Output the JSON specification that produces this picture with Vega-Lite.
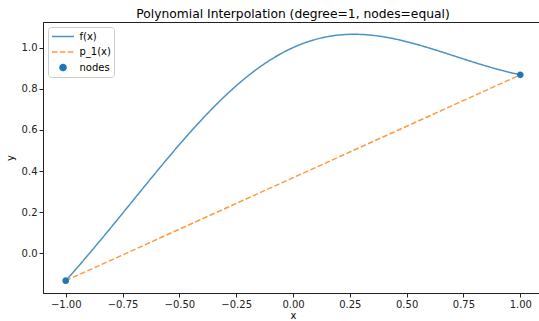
{
  "$schema": "https://vega.github.io/schema/vega-lite/v6.json",
  "width": 500,
  "height": 271,
  "autosize": {"type": "none"},
  "padding": {"left": 43, "top": 22, "right": 0, "bottom": 28},
  "background": "white",
  "title": {"text": "Polynomial Interpolation (degree=1, nodes=equal)", "fontSize": 12.3, "fontWeight": "normal", "font": "DejaVu Sans", "color": "black", "offset": 2},
  "datasets": {
    "f": [
      {"x": -1.0, "y": -0.132121, "series": "f(x)"},
      {"x": -0.95, "y": -0.069445, "series": "f(x)"},
      {"x": -0.9, "y": -0.005142, "series": "f(x)"},
      {"x": -0.85, "y": 0.060537, "series": "f(x)"},
      {"x": -0.8, "y": 0.127292, "series": "f(x)"},
      {"x": -0.75, "y": 0.194783, "series": "f(x)"},
      {"x": -0.7, "y": 0.262626, "series": "f(x)"},
      {"x": -0.65, "y": 0.330406, "series": "f(x)"},
      {"x": -0.6, "y": 0.397676, "series": "f(x)"},
      {"x": -0.55, "y": 0.463968, "series": "f(x)"},
      {"x": -0.5, "y": 0.528801, "series": "f(x)"},
      {"x": -0.45, "y": 0.591686, "series": "f(x)"},
      {"x": -0.4, "y": 0.652144, "series": "f(x)"},
      {"x": -0.35, "y": 0.709706, "series": "f(x)"},
      {"x": -0.3, "y": 0.763931, "series": "f(x)"},
      {"x": -0.25, "y": 0.814413, "series": "f(x)"},
      {"x": -0.2, "y": 0.860789, "series": "f(x)"},
      {"x": -0.15, "y": 0.902751, "series": "f(x)"},
      {"x": -0.1, "y": 0.940050, "series": "f(x)"},
      {"x": -0.05, "y": 0.972503, "series": "f(x)"},
      {"x": 0.0, "y": 1.0, "series": "f(x)"},
      {"x": 0.05, "y": 1.022503, "series": "f(x)"},
      {"x": 0.1, "y": 1.040050, "series": "f(x)"},
      {"x": 0.15, "y": 1.052751, "series": "f(x)"},
      {"x": 0.2, "y": 1.060789, "series": "f(x)"},
      {"x": 0.25, "y": 1.064413, "series": "f(x)"},
      {"x": 0.3, "y": 1.063931, "series": "f(x)"},
      {"x": 0.35, "y": 1.059706, "series": "f(x)"},
      {"x": 0.4, "y": 1.052144, "series": "f(x)"},
      {"x": 0.45, "y": 1.041686, "series": "f(x)"},
      {"x": 0.5, "y": 1.028801, "series": "f(x)"},
      {"x": 0.55, "y": 1.013968, "series": "f(x)"},
      {"x": 0.6, "y": 0.997676, "series": "f(x)"},
      {"x": 0.65, "y": 0.980406, "series": "f(x)"},
      {"x": 0.7, "y": 0.962626, "series": "f(x)"},
      {"x": 0.75, "y": 0.944783, "series": "f(x)"},
      {"x": 0.8, "y": 0.927292, "series": "f(x)"},
      {"x": 0.85, "y": 0.910537, "series": "f(x)"},
      {"x": 0.9, "y": 0.894858, "series": "f(x)"},
      {"x": 0.95, "y": 0.880555, "series": "f(x)"},
      {"x": 1.0, "y": 0.867879, "series": "f(x)"}
    ],
    "p": [
      {"x": -1.0, "y": -0.132121, "series": "p_1(x)"},
      {"x": 1.0, "y": 0.867879, "series": "p_1(x)"}
    ],
    "nodes": [
      {"x": -1.0, "y": -0.132121, "series": "nodes"},
      {"x": 1.0, "y": 0.867879, "series": "nodes"}
    ]
  },
  "layer": [
    {
      "data": {"name": "f"},
      "mark": {"type": "line", "strokeWidth": 1.5, "interpolate": "natural", "clip": true},
      "encoding": {
        "x": {"field": "x", "type": "quantitative", "scale": {"domain": [-1.1, 1.1], "nice": false, "zero": false}, "axis": {"title": "x", "values": [-1, -0.75, -0.5, -0.25, 0, 0.25, 0.5, 0.75, 1], "format": ".2f"}},
        "y": {"field": "y", "type": "quantitative", "scale": {"domain": [-0.192, 1.1244], "nice": false, "zero": false}, "axis": {"title": "y", "values": [0, 0.2, 0.4, 0.6, 0.8, 1.0], "format": ".1f"}},
        "color": {"field": "series", "type": "nominal", "scale": {"domain": ["f(x)", "p_1(x)", "nodes"], "range": ["#4c92c3", "#ff993e", "#1f77b4"]},
          "legend": {"orient": "top-left", "offset": 5, "title": null, "padding": 3, "fillColor": "white", "strokeColor": "#cccccc", "cornerRadius": 3, "labelFontSize": 10, "labelFont": "DejaVu Sans", "labelColor": "black", "rowPadding": 3.5, "symbolSize": 121, "symbolStrokeWidth": 1.5, "symbolOffset": 5.5, "labelOffset": 10,
            "encode": {"symbols": {"update": {"stroke": {"scale": "color", "field": "value"}, "fill": {"scale": "color", "field": "value"}}}}}},
        "strokeDash": {"field": "series", "type": "nominal", "scale": {"domain": ["f(x)", "p_1(x)", "nodes"], "range": [[1, 0], [5.5, 2.4], [1, 0]]}}
      }
    },
    {
      "data": {"name": "p"},
      "mark": {"type": "line", "strokeWidth": 1.5, "clip": true},
      "encoding": {
        "x": {"field": "x", "type": "quantitative"},
        "y": {"field": "y", "type": "quantitative"},
        "color": {"field": "series", "type": "nominal"},
        "strokeDash": {"field": "series", "type": "nominal"}
      }
    },
    {
      "data": {"name": "nodes"},
      "mark": {"type": "point", "filled": true, "size": 150, "opacity": 1},
      "encoding": {
        "x": {"field": "x", "type": "quantitative"},
        "y": {"field": "y", "type": "quantitative"},
        "color": {"field": "series", "type": "nominal"},
        "shape": {"field": "series", "type": "nominal", "scale": {"domain": ["f(x)", "p_1(x)", "nodes"], "range": ["M-2,0H2", "M-2,0H2", "M0.55,0A0.55,0.55,0,1,1,-0.55,0A0.55,0.55,0,1,1,0.55,0Z"]}}
      }
    }
  ],
  "config": {
    "font": "DejaVu Sans",
    "view": {"stroke": "#222222", "strokeWidth": 1},
    "axis": {"grid": false, "domainColor": "#222222", "tickColor": "#222222", "tickSize": 4, "labelFontSize": 10, "labelColor": "#222222", "labelFont": "DejaVu Sans", "titleFont": "DejaVu Sans", "titleFontSize": 10, "titleFontWeight": "normal", "titleColor": "black", "labelPadding": 2},
    "axisX": {"titlePadding": 1},
    "axisY": {"titlePadding": 6}
  }
}
